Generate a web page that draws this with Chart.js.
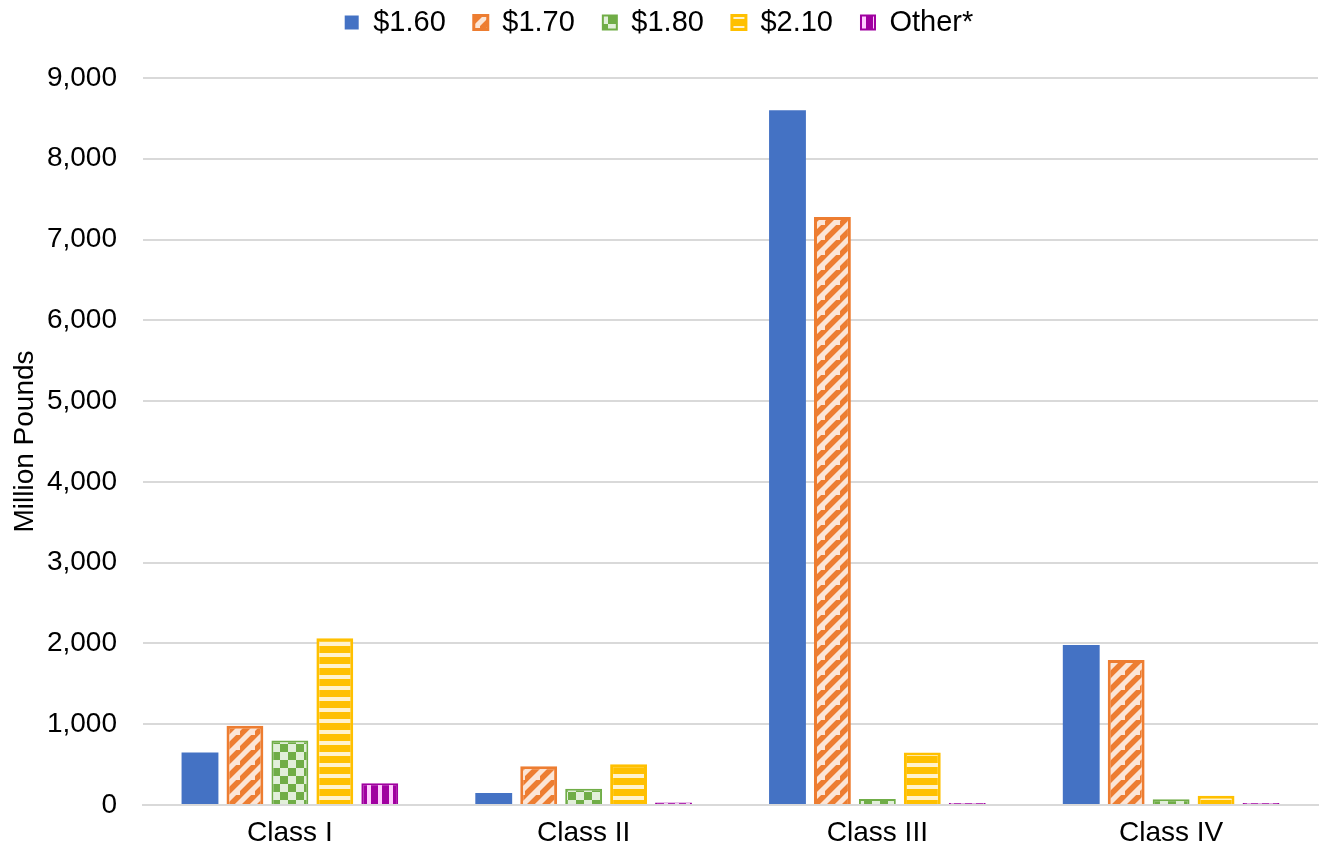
<!DOCTYPE html>
<html>
<head>
<meta charset="utf-8">
<script src="https://cdn.jsdelivr.net/npm/chart.js@4"></script>
<style>
  html, body { margin: 0; padding: 0; background: #fff; overflow: hidden; }
</style>
</head>
<body>
<canvas id="chart" width="1319" height="852"></canvas>
<script>
let categories = ["Class I", "Class II", "Class III", "Class IV"];
let price_160 = [650, 150, 8600, 1980];
let price_170 = [980, 480, 7280, 1795];
let price_180 = [800, 200, 75, 70];
let price_210 = [2065, 505, 650, 115];
let price_other = [270, 30, 25, 25];

function makePattern(w, h, draw) {
  let c = document.createElement("canvas");
  c.width = w;
  c.height = h;
  let ctx = c.getContext("2d");
  draw(ctx, w, h);
  return ctx.createPattern(c, "repeat");
}

// diagonal orange stripes on light peach
let orangePat = makePattern(15, 15, (ctx, w, h) => {
  ctx.fillStyle = "#FBE5D6";
  ctx.fillRect(0, 0, w, h);
  ctx.strokeStyle = "#ED7D31";
  ctx.lineWidth = 5.5;
  ctx.beginPath();
  ctx.moveTo(-2, h + 2); ctx.lineTo(w + 2, -2);
  ctx.moveTo(-2 - w, h + 2); ctx.lineTo(2, -2);
  ctx.moveTo(w - 2, 2 * h + 2); ctx.lineTo(2 * w + 2, h - 2);
  ctx.stroke();
});

// checkerboard green
let greenPat = makePattern(16, 16, (ctx, w, h) => {
  ctx.fillStyle = "#E2EFDA";
  ctx.fillRect(0, 0, w, h);
  ctx.fillStyle = "#70AD47";
  ctx.fillRect(0, 0, 8, 8);
  ctx.fillRect(8, 8, 8, 8);
});

// horizontal yellow stripes
let yellowPat = makePattern(11, 11, (ctx, w, h) => {
  ctx.fillStyle = "#FFC000";
  ctx.fillRect(0, 0, w, h);
  ctx.fillStyle = "#FFF2CC";
  ctx.fillRect(0, 4, w, 4);
});

// vertical purple stripes
let purplePat = makePattern(11, 11, (ctx, w, h) => {
  ctx.fillStyle = "#A000A0";
  ctx.fillRect(0, 0, w, h);
  ctx.fillStyle = "#FFCCFF";
  ctx.fillRect(4, 0, 4, h);
});

Chart.defaults.font.family = "Arial, 'Liberation Sans', sans-serif";
Chart.defaults.color = "#000";

// push the plot down below the legend
let legendGap = {
  id: "legendGap",
  beforeInit(chart) {
    let fit = chart.legend.fit;
    chart.legend.fit = function () {
      fit.bind(chart.legend)();
      this.height += 31;
    };
  },
};

new Chart(document.getElementById("chart").getContext("2d"), {
  type: "bar",
  data: {
    labels: categories,
    datasets: [
      { label: "$1.60", data: price_160, backgroundColor: "#4472C4", borderColor: "#4472C4", borderWidth: 0 },
      { label: "$1.70", data: price_170, backgroundColor: orangePat, borderColor: "#ED7D31", borderWidth: 3 },
      { label: "$1.80", data: price_180, backgroundColor: greenPat, borderColor: "#70AD47", borderWidth: 2 },
      { label: "$2.10", data: price_210, backgroundColor: yellowPat, borderColor: "#FFC000", borderWidth: 3 },
      { label: "Other*", data: price_other, backgroundColor: purplePat, borderColor: "#A000A0", borderWidth: 2 },
    ],
  },
  plugins: [legendGap],
  options: {
    responsive: false,
    animation: false,
    layout: { padding: { left: 0, right: 1, top: -20, bottom: 2 } },
    datasets: {
      bar: { categoryPercentage: 0.765, barPercentage: 0.82 },
    },
    plugins: {
      legend: {
        position: "top",
        labels: {
          font: { size: 29 },
          boxWidth: 14,
          boxHeight: 14,
          padding: 28,
        },
      },
      tooltip: { enabled: false },
    },
    scales: {
      x: {
        afterFit(scale) { scale.height = 45; },
        grid: { display: false, drawTicks: false },
        border: { color: "#D9D9D9", width: 2 },
        ticks: { font: { size: 28 }, padding: 11, maxRotation: 0 },
      },
      y: {
        min: 0,
        max: 9000,
        afterFit(scale) { scale.width = 143; },
        ticks: {
          stepSize: 1000,
          font: { size: 28 },
          padding: 26,
          callback: (v) => v.toLocaleString("en-US"),
        },
        grid: { color: "#D9D9D9", lineWidth: 2, drawTicks: false },
        border: { display: false },
        title: { display: true, text: "Million Pounds", font: { size: 28 }, padding: { top: 8, bottom: 0 } },
      },
    },
  },
});
</script>
</body>
</html>
